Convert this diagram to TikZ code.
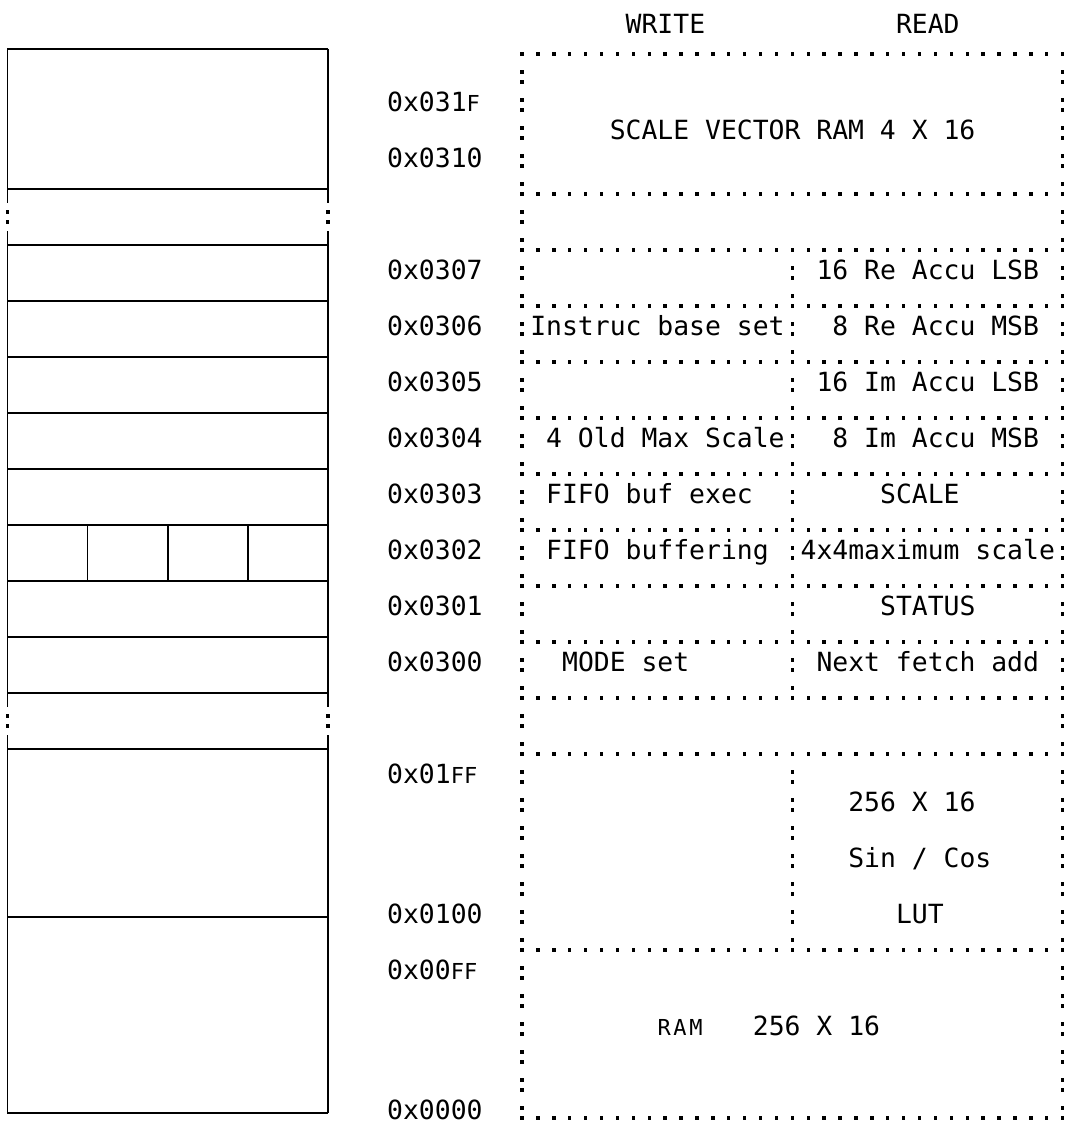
\documentclass[tikz,border=0pt]{standalone}
\usepackage{fontspec}
\setmonofont{DejaVu Sans Mono}
\newfontfamily\smallmono[LetterSpace=12]{DejaVu Sans Mono}
\newcommand\sF{{\fontsize{11}{14}\selectfont F}}
\newcommand\sq[2]{\fill ({#1},{#2}) +(-1.7,-1.7) rectangle +(1.7,1.7);}
\begin{document}
\begin{tikzpicture}[x=0.5pt,y=-0.5pt,
  txt/.style={anchor=base west,inner sep=0pt,font=\ttfamily\fontsize{13.2}{14}\selectfont},
  small/.style={font=\smallmono\fontsize{11}{14}\selectfont},
  box/.style={line width=0.8pt}]
\useasboundingbox (0,0) rectangle (1066,1129);
% left column
\foreach \n in {-1,4,6,8,...,24,30,37} \draw[box] (7.3,{77+28*\n}) -- (328,{77+28*\n});
\foreach \x in {7.3,328} {
  \draw[box] (\x,49) -- (\x,203);
  \draw[box] (\x,231) -- (\x,707);
  \draw[box] (\x,735) -- (\x,1113);
  \foreach \n in {5,23} {\sq{\x}{72+28*\n}\sq{\x}{82+28*\n}}
}
\foreach \x in {87.5,167.7,247.8} \draw[box] (\x,525) -- (\x,581);
% dotted rules of the map
\foreach \n in {-1,4,6,8,...,22,24,31,37}
  \foreach \c in {0,...,34} {\sq{522+15.9*\c}{82+28*\n}}
\foreach \n in {0,...,37}
  \foreach \c in {0,34} {\sq{522+15.9*\c}{72+28*\n}\sq{522+15.9*\c}{82+28*\n}}
\foreach \n in {7,...,22,25,26,...,31} {\sq{792.3}{72+28*\n}\sq{792.3}{82+28*\n}}
% headings
\node[txt] (write) at ({514+15.9*7},34) {WRITE};
\node[txt] (read) at ({514+15.9*24},34) {READ};
% addresses
\foreach \n/\a in {1/0x031\sF,3/0x0310,7/0x0307,9/0x0306,11/0x0305,13/0x0304,15/0x0303,
  17/0x0302,19/0x0301,21/0x0300,25/0x01\sF\sF,30/0x0100,32/0x00\sF\sF,37/0x0000}
  \node[txt] (addr\n) at ({514-15.9*8},{83.5+28*\n}) {\a};
% cells
\foreach \c/\n/\nm/\t in {6/2/svr/SCALE VECTOR RAM 4 X 16,19/7/reLsb/16 Re Accu LSB,
  1/9/instr/Instruc base set,20/9/reMsb/8 Re Accu MSB,19/11/imLsb/16 Im Accu LSB,
  2/13/oldMax/4 Old Max Scale,20/13/imMsb/8 Im Accu MSB,2/15/fifoExec/FIFO buf exec,
  23/15/scale/SCALE,2/17/fifoBuf/FIFO buffering,18/17/maxScale/4x4maximum scale,
  23/19/status/STATUS,3/21/mode/MODE set,19/21/nextFetch/Next fetch add,
  21/26/lutSize/256 X 16,21/28/sinCos/{Sin / Cos},24/30/lut/LUT,15/34/ramSize/256 X 16}
  \node[txt] (\nm) at ({514+15.9*\c},{83.5+28*\n}) {\t};
\node[txt,small] (ram) at ({514+15.9*9},{83.5+28*34}) {RAM};
\end{tikzpicture}
\end{document}
